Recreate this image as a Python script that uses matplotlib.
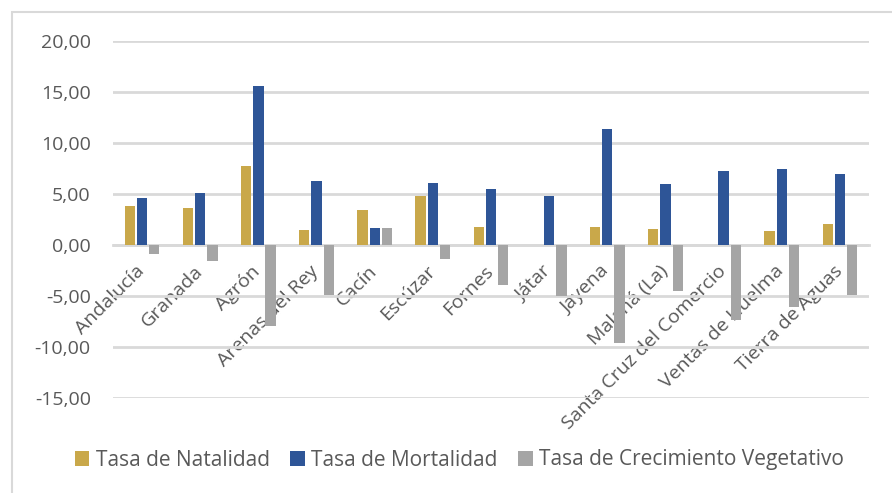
import matplotlib.pyplot as plt
import matplotlib.patches as mpatches
import matplotlib.transforms as mtransforms
from matplotlib.ticker import FuncFormatter, MultipleLocator
import numpy as np

plt.rcParams['font.family'] = ['Open Sans', 'DejaVu Sans']

# Data
municipios = ["Andalucía", "Granada", "Agrón", "Arenas del Rey", "Cacín", "Escúzar",
              "Fornes", "Játar", "Jayena", "Malahá (La)", "Santa Cruz del Comercio",
              "Ventas de Huelma", "Tierra de Aguas"]
natalidad = [3.86, 3.66, 7.71, 1.44, 3.46, 4.84, 1.80, 0.0, 1.80, 1.57, 0.0, 1.37, 2.06]
mortalidad = [4.64, 5.10, 15.59, 6.31, 1.70, 6.08, 5.49, 4.80, 11.40, 6.01, 7.29, 7.42, 6.93]
crecimiento = [-0.88, -1.54, -7.97, -4.90, 1.70, -1.37, -3.89, -5.03, -9.64, -4.55, -7.35, -6.12, -4.90]

series_names = ["Tasa de Natalidad", "Tasa de Mortalidad", "Tasa de Crecimiento Vegetativo"]
colors = ["#C9A84A", "#2E5597", "#A5A5A5"]
text_color = "#595959"
grid_color = "#D9D9D9"

fig = plt.figure(figsize=(8.92, 4.93), dpi=100)
ax = fig.add_axes([113 / 892, 1 - 398 / 493, (869 - 113) / 892, (398 - 41) / 493])

x = np.arange(len(municipios))
w = 0.177
step = 0.21
for k, (vals, name, c) in enumerate(zip([natalidad, mortalidad, crecimiento], series_names, colors)):
    ax.bar(x + (k - 1) * step, vals, width=w, color=c, label=name, zorder=3)

ax.set_xlim(-0.5, len(municipios) - 0.5)
ax.set_ylim(-15, 20)
ax.yaxis.set_major_locator(MultipleLocator(5))
ax.yaxis.set_major_formatter(FuncFormatter(lambda v, p: f"{v:.2f}".replace(".", ",")))
ax.grid(axis="y", color=grid_color, linewidth=2, zorder=0)

for s in ["top", "right", "left"]:
    ax.spines[s].set_visible(False)
ax.spines["bottom"].set_position(("data", 0))
ax.spines["bottom"].set_color(grid_color)
ax.spines["bottom"].set_linewidth(2)
ax.spines["bottom"].set_zorder(2)

ax.tick_params(axis="y", length=0, pad=16, labelsize=14, labelcolor=text_color)
ax.set_xticks([])

# category labels hanging under the zero line, rotated 45 degrees
offset = mtransforms.ScaledTranslation(3 / 100, -27 / 100, fig.dpi_scale_trans)
for xi, name in zip(x, municipios):
    ax.text(xi, 0, name, rotation=45, ha="right", va="baseline", rotation_mode="anchor",
            fontsize=14, color=text_color, transform=ax.transData + offset, zorder=1)

leg = fig.legend(loc="center", bbox_to_anchor=(0.515, 1 - 460 / 493), ncol=3, frameon=False,
                 fontsize=15, handlelength=0.7, handleheight=0.7, handletextpad=0.3,
                 columnspacing=1.0)
for t in leg.get_texts():
    t.set_color(text_color)

# chart border
fig.patches.append(mpatches.Rectangle((12 / 892, -0.1), 1.2, 1.1 - 12 / 493,
                                      transform=fig.transFigure, fill=False,
                                      edgecolor=grid_color, linewidth=1.5))

fig.savefig("out.png", dpi=100)
